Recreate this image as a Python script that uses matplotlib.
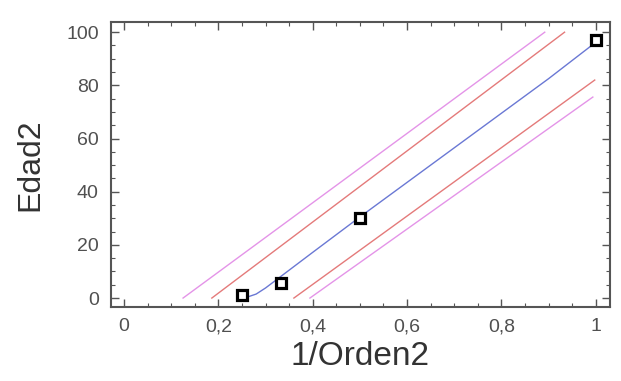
import matplotlib
matplotlib.use("Agg")
import matplotlib.pyplot as plt
from matplotlib.ticker import MultipleLocator, FuncFormatter

plt.rcParams["font.family"] = ["Liberation Sans", "DejaVu Sans"]

# observed points
orden_inv = [0.25, 0.333, 0.5, 1.0]
edad = [1.0, 5.5, 30.0, 97.0]

# fitted curve
fit_x = [0.255, 0.28, 0.30, 0.35, 0.40, 0.50, 0.60, 0.70, 0.80, 0.90, 0.995]
fit_y = [0.0, 1.5, 3.8, 10.5, 17.2, 30.5, 43.5, 56.5, 69.5, 82.5, 95.5]

# confidence limits (inner, red) and prediction limits (outer, pink)
conf_up_x = [0.186, 0.934]
conf_up_y = [0.0, 100.0]
conf_lo_x = [0.36, 0.998]
conf_lo_y = [0.0, 82.0]
pred_up_x = [0.125, 0.892]
pred_up_y = [0.0, 100.0]
pred_lo_x = [0.394, 0.994]
pred_lo_y = [0.0, 75.6]

PINK = "#e494e8"
RED = "#e47a7a"
BLUE = "#6a78d4"
GREY = "#555555"

fig = plt.figure(figsize=(6.21, 3.81), dpi=100)
ax = fig.add_axes([0.179, 0.194, 0.803, 0.748])

ax.plot(pred_up_x, pred_up_y, color=PINK, lw=1.0)
ax.plot(pred_lo_x, pred_lo_y, color=PINK, lw=1.0)
ax.plot(conf_up_x, conf_up_y, color=RED, lw=1.0)
ax.plot(conf_lo_x, conf_lo_y, color=RED, lw=1.0)
ax.plot(fit_x, fit_y, color=BLUE, lw=1.0)
ax.plot(orden_inv, edad, ls="none", marker="s", ms=6.5, mfc="white", mec="black", mew=2.3, zorder=5)

ax.set_xlim(-0.0275, 1.03)
ax.set_ylim(-3.4, 103.8)
ax.xaxis.set_major_locator(MultipleLocator(0.2))
ax.xaxis.set_minor_locator(MultipleLocator(0.05))
ax.yaxis.set_major_locator(MultipleLocator(20))
ax.yaxis.set_minor_locator(MultipleLocator(5))
ax.xaxis.set_major_formatter(FuncFormatter(lambda v, p: f"{v:g}".replace(".", ",")))

ax.tick_params(which="both", direction="in", top=True, right=True, color=GREY)
ax.tick_params(which="major", length=6, width=1.0, labelsize=14, labelcolor="#505050")
ax.tick_params(axis="y", which="major", pad=9)
ax.tick_params(axis="x", which="major", pad=8)
ax.tick_params(which="minor", length=3, width=0.8)
for s in ax.spines.values():
    s.set_color(GREY)
    s.set_linewidth(1.5)

ax.set_xlabel("1/Orden2", fontsize=24, color="#333333", labelpad=4)
ax.set_ylabel("Edad2", fontsize=23, color="#333333", labelpad=15)

fig.savefig("out.png", facecolor="white")
